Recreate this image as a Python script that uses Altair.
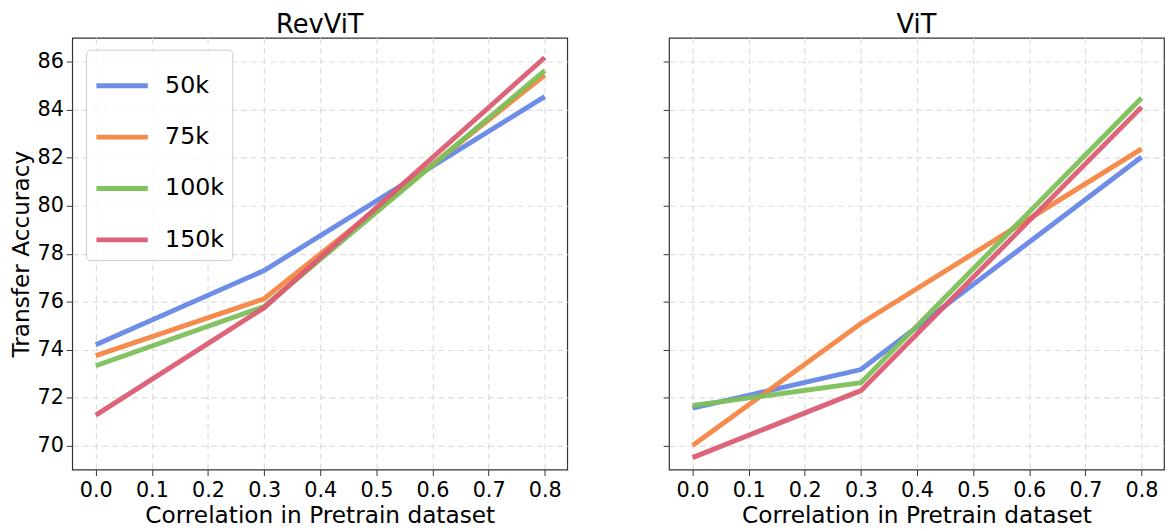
import altair as alt
import pandas as pd

x_vals = [0.0, 0.3, 0.8]
series = ["50k", "75k", "100k", "150k"]
colors = ["#6687e6", "#f58544", "#7cc058", "#db5c72"]

revvit_50k = [74.2, 77.3, 84.55]
revvit_75k = [73.75, 76.12, 85.45]
revvit_100k = [73.33, 75.8, 85.63]
revvit_150k = [71.27, 75.75, 86.18]

vit_50k = [71.56, 73.17, 82.03]
vit_75k = [70.0, 75.09, 82.37]
vit_100k = [71.67, 72.62, 84.49]
vit_150k = [69.5, 72.29, 84.11]

x_ticks = [0.0, 0.1, 0.2, 0.3, 0.4, 0.5, 0.6, 0.7, 0.8]
y_ticks = [70, 72, 74, 76, 78, 80, 82, 84, 86]


def frame(model, vals):
    rows = []
    for s, v in zip(series, vals):
        for x, y in zip(x_vals, v):
            rows.append({"model": model, "size": s, "x": x, "y": y,
                         "order": series.index(s)})
    return pd.DataFrame(rows)


df_rev = frame("RevViT", [revvit_50k, revvit_75k, revvit_100k, revvit_150k])
df_vit = frame("ViT", [vit_50k, vit_75k, vit_100k, vit_150k])

FONT = "DejaVu Sans"


def panel(df, title, show_y, show_legend):
    x = alt.X("x:Q",
              scale=alt.Scale(domain=[-0.042, 0.84], nice=False, zero=False),
              axis=alt.Axis(values=x_ticks, format=".1f",
                            title="Correlation in Pretrain dataset"))
    y = alt.Y("y:Q",
              scale=alt.Scale(domain=[69, 87], nice=False, zero=False),
              axis=alt.Axis(values=y_ticks, format="d",
                            title="Transfer Accuracy" if show_y else None,
                            labels=show_y))
    legend = None
    if show_legend:
        legend = alt.Legend(title=None, orient="none", legendX=14, legendY=12,
                            symbolType="stroke", symbolSize=2700,
                            symbolStrokeWidth=5, labelFontSize=24,
                            labelFont=FONT, rowPadding=11, labelOffset=15,
                            padding=8, strokeColor="#cccccc",
                            cornerRadius=4, fillColor="rgba(255,255,255,0.8)")
    color = alt.Color("size:N", scale=alt.Scale(domain=series, range=colors),
                      sort=series, legend=legend)
    return alt.Chart(df, title=alt.Title(title, fontSize=26, font=FONT,
                                         fontWeight="normal", offset=0)).mark_line(
        strokeWidth=5, opacity=0.95
    ).encode(x=x, y=y, color=color, detail="size:N",
             order=alt.Order("order:Q")).properties(width=501, height=437)


chart = alt.hconcat(
    panel(df_rev, "RevViT", True, True),
    panel(df_vit, "ViT", False, False),
    spacing=94,
).properties(padding=0).configure_view(
    stroke="#333333", strokeWidth=1.2
).configure_axis(
    domain=False, tickColor="#333333", tickSize=6, labelFontSize=21,
    titleFontSize=23.5, labelFont=FONT, titleFont=FONT, titleFontWeight="normal",
    labelColor="#000000", titleColor="#000000", labelPadding=3,
    grid=True, gridColor="#dddddd", gridDash=[6, 4], gridWidth=1.2,
).configure_axisY(titlePadding=4).configure_axisX(titlePadding=4, labelPadding=4)

chart.save("out.html", embed_options={"renderer": "svg", "actions": False})
